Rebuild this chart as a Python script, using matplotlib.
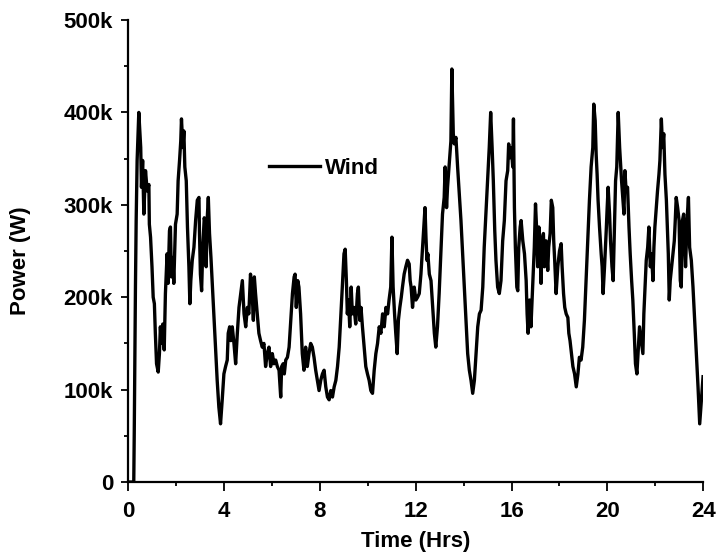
import matplotlib

matplotlib.use("Agg")
import matplotlib.pyplot as plt
from matplotlib.ticker import FuncFormatter, MultipleLocator

# wind power trace (time in hours, power in kW)
hours = [
    0.00, 0.24, 0.26, 0.31, 0.34, 0.38, 0.45, 0.49, 0.53, 0.56, 0.61, 0.66, 0.73, 0.80, 0.87, 0.89,
    0.94, 1.00, 1.05, 1.10, 1.14, 1.19, 1.26, 1.31, 1.35, 1.39, 1.45, 1.51, 1.56, 1.63, 1.67, 1.73,
    1.77, 1.81, 1.87, 1.91, 1.98, 2.05, 2.09, 2.15, 2.20, 2.23, 2.29, 2.33, 2.37, 2.43, 2.48, 2.54,
    2.58, 2.62, 2.68, 2.75, 2.82, 2.89, 2.96, 2.98, 3.02, 3.07, 3.12, 3.18, 3.23, 3.26, 3.30, 3.35,
    3.40, 3.46, 3.51, 3.58, 3.65, 3.72, 3.79, 3.86, 3.93, 4.00, 4.07, 4.14, 4.18, 4.24, 4.29, 4.35,
    4.42, 4.49, 4.56, 4.63, 4.70, 4.77, 4.84, 4.91, 4.98, 5.04, 5.11, 5.18, 5.23, 5.27, 5.32, 5.39,
    5.46, 5.53, 5.60, 5.67, 5.74, 5.81, 5.88, 5.95, 6.02, 6.09, 6.16, 6.23, 6.30, 6.37, 6.41, 6.47,
    6.52, 6.58, 6.65, 6.72, 6.79, 6.86, 6.93, 6.97, 7.02, 7.08, 7.13, 7.20, 7.27, 7.34, 7.41, 7.48,
    7.55, 7.62, 7.69, 7.76, 7.83, 7.90, 7.97, 8.04, 8.11, 8.18, 8.25, 8.32, 8.39, 8.46, 8.53, 8.60,
    8.67, 8.74, 8.81, 8.87, 8.94, 9.01, 9.06, 9.11, 9.15, 9.20, 9.25, 9.31, 9.36, 9.43, 9.50, 9.57,
    9.61, 9.67, 9.72, 9.78, 9.85, 9.92, 9.99, 10.06, 10.13, 10.20, 10.27, 10.34, 10.41, 10.48, 10.55,
    10.62, 10.69, 10.76, 10.83, 10.89, 10.96, 11.01, 11.06, 11.12, 11.17, 11.23, 11.28, 11.34, 11.40,
    11.45, 11.52, 11.59, 11.66, 11.73, 11.77, 11.81, 11.87, 11.94, 12.01, 12.08, 12.15, 12.22, 12.29,
    12.33, 12.39, 12.43, 12.47, 12.51, 12.57, 12.64, 12.71, 12.78, 12.84, 12.91, 12.98, 13.05, 13.12,
    13.19, 13.23, 13.29, 13.33, 13.40, 13.47, 13.51, 13.57, 13.61, 13.68, 13.75, 13.82, 13.89, 13.96,
    14.03, 14.10, 14.17, 14.24, 14.31, 14.38, 14.45, 14.52, 14.59, 14.66, 14.73, 14.80, 14.86, 14.93,
    15.00, 15.07, 15.13, 15.19, 15.24, 15.30, 15.35, 15.42, 15.49, 15.56, 15.63, 15.70, 15.77, 15.84,
    15.88, 15.94, 15.99, 16.05, 16.08, 16.12, 16.16, 16.22, 16.26, 16.30, 16.36, 16.40, 16.47, 16.54,
    16.61, 16.65, 16.69, 16.75, 16.81, 16.88, 16.95, 17.00, 17.05, 17.09, 17.14, 17.19, 17.23, 17.27,
    17.33, 17.37, 17.44, 17.51, 17.55, 17.61, 17.66, 17.72, 17.76, 17.80, 17.86, 17.93, 18.00, 18.07,
    18.11, 18.17, 18.22, 18.28, 18.35, 18.39, 18.44, 18.50, 18.56, 18.63, 18.70, 18.77, 18.83, 18.90,
    18.97, 19.04, 19.11, 19.18, 19.25, 19.32, 19.39, 19.43, 19.49, 19.53, 19.57, 19.61, 19.67, 19.74,
    19.78, 19.82, 19.88, 19.95, 19.99, 20.03, 20.09, 20.13, 20.19, 20.24, 20.30, 20.34, 20.39, 20.45,
    20.51, 20.55, 20.59, 20.65, 20.69, 20.73, 20.78, 20.84, 20.90, 20.95, 21.01, 21.06, 21.12, 21.17,
    21.23, 21.29, 21.34, 21.41, 21.48, 21.52, 21.57, 21.62, 21.68, 21.73, 21.79, 21.84, 21.90, 21.94,
    21.98, 22.04, 22.09, 22.15, 22.19, 22.25, 22.30, 22.35, 22.40, 22.46, 22.50, 22.54, 22.58, 22.62,
    22.68, 22.74, 22.79, 22.83, 22.87, 22.93, 22.99, 23.04, 23.08, 23.13, 23.18, 23.22, 23.26, 23.32,
    23.38, 23.43, 23.50, 23.57, 23.64, 23.71, 23.78, 23.85, 23.92, 23.99,
]
power_kw = [
    0, 0, 53, 211, 283, 348, 400, 380, 362, 319, 348, 290, 337, 315, 322, 279,
    265, 233, 200, 193, 161, 128, 119, 139, 168, 150, 171, 143, 204, 247, 215, 272,
    276, 222, 243, 215, 279, 290, 326, 348, 369, 393, 362, 380, 341, 326, 276, 233,
    193, 218, 240, 254, 283, 305, 308, 272, 225, 207, 254, 286, 279, 233, 283, 308,
    269, 243, 218, 182, 146, 110, 81, 63, 89, 117, 125, 132, 161, 168, 153, 168,
    150, 128, 161, 189, 204, 218, 182, 168, 189, 182, 225, 204, 175, 222, 204, 182,
    161, 153, 146, 150, 125, 139, 146, 125, 139, 128, 132, 125, 121, 92, 125, 128,
    117, 132, 135, 146, 175, 204, 222, 225, 189, 218, 211, 182, 139, 121, 146, 125,
    139, 150, 146, 135, 121, 110, 99, 110, 117, 121, 103, 92, 89, 99, 92, 103,
    110, 125, 146, 175, 211, 247, 252, 218, 182, 197, 168, 211, 182, 189, 171, 204,
    211, 175, 189, 168, 146, 125, 117, 110, 99, 96, 121, 139, 150, 168, 161,
    182, 168, 189, 182, 197, 211, 265, 211, 182, 161, 139, 175, 189, 200,
    211, 225, 233, 240, 236, 218, 211, 189, 211, 197, 200, 204, 225, 254,
    272, 297, 265, 240, 247, 225, 218, 189, 161, 146, 168, 204, 247, 290,
    308, 341, 297, 319, 344, 369, 447, 377, 366, 373, 341, 312, 283, 247,
    211, 175, 139, 121, 110, 96, 110, 139, 168, 182, 186, 211, 254, 290,
    326, 362, 400, 362, 326, 272, 240, 211, 204, 218, 261, 283, 326, 337,
    366, 351, 362, 341, 393, 297, 254, 211, 207, 254, 276, 283, 261, 247,
    218, 182, 161, 197, 168, 211, 254, 301, 272, 233, 276, 254, 215, 261,
    269, 233, 261, 229, 254, 269, 305, 297, 261, 240, 204, 233, 250, 258,
    233, 204, 189, 182, 178, 161, 153, 139, 125, 117, 103, 117, 135, 132,
    146, 175, 218, 261, 305, 341, 362, 409, 391, 355, 333, 305, 276, 247,
    233, 204, 233, 272, 297, 319, 290, 261, 233, 218, 283, 326, 341, 400,
    362, 344, 326, 305, 290, 337, 315, 319, 276, 247, 218, 197, 161, 128,
    117, 146, 168, 153, 139, 182, 211, 240, 254, 276, 233, 247, 218, 254,
    276, 297, 315, 333, 348, 393, 362, 377, 333, 305, 276, 247, 197, 218,
    233, 247, 261, 283, 308, 297, 283, 218, 211, 283, 290, 261, 233, 283,
    308, 254, 240, 211, 175, 139, 103, 63, 89, 114,
]

x_label = "Time (Hrs)"
y_label = "Power (W)"
series_name = "Wind"


def k_format(value, _pos):
    if value == 0:
        return "0"
    return f"{value / 1000:.0f}k"


def main() -> None:
    plt.rcParams["font.family"] = ["Liberation Sans", "DejaVu Sans"]
    plt.rcParams["font.weight"] = "bold"
    plt.rcParams["font.size"] = 16

    fig = plt.figure(figsize=(7.2, 5.57), dpi=100)
    ax = fig.add_axes([0.1778, 0.1346, 0.7990, 0.8294])

    watts = [p * 1000 for p in power_kw]
    ax.plot(hours, watts, color="black", linewidth=2.4, label=series_name)

    ax.set_xlim(0, 24)
    ax.set_ylim(0, 500000)
    ax.xaxis.set_major_locator(MultipleLocator(4))
    ax.xaxis.set_minor_locator(MultipleLocator(2))
    ax.yaxis.set_major_locator(MultipleLocator(100000))
    ax.yaxis.set_minor_locator(MultipleLocator(50000))
    ax.yaxis.set_major_formatter(FuncFormatter(k_format))

    for side in ("top", "right"):
        ax.spines[side].set_visible(False)
    for side in ("left", "bottom"):
        ax.spines[side].set_linewidth(1.6)

    ax.tick_params(axis="x", which="major", direction="out", length=6.5, width=1.3, pad=7.5)
    ax.tick_params(axis="y", which="major", direction="out", length=5.0, width=1.3, pad=5.8)
    ax.tick_params(which="minor", direction="out", length=3.0, width=1.3)

    ax.set_xlabel(x_label, fontsize=16, fontweight="bold")
    ax.set_ylabel(y_label, fontsize=16, fontweight="bold")
    ax.xaxis.set_label_coords(0.5, -0.107)
    ax.yaxis.set_label_coords(-0.168, 0.48)

    fig.legend(
        loc="center left",
        bbox_to_anchor=(269.3 / 720, 1 - 168.3 / 557),
        frameon=False,
        handlelength=2.3,
        handletextpad=0.2,
        borderpad=0,
        borderaxespad=0,
        prop={"size": 16, "weight": "bold"},
    )

    fig.savefig("out.png", dpi=100)


if __name__ == "__main__":
    main()
